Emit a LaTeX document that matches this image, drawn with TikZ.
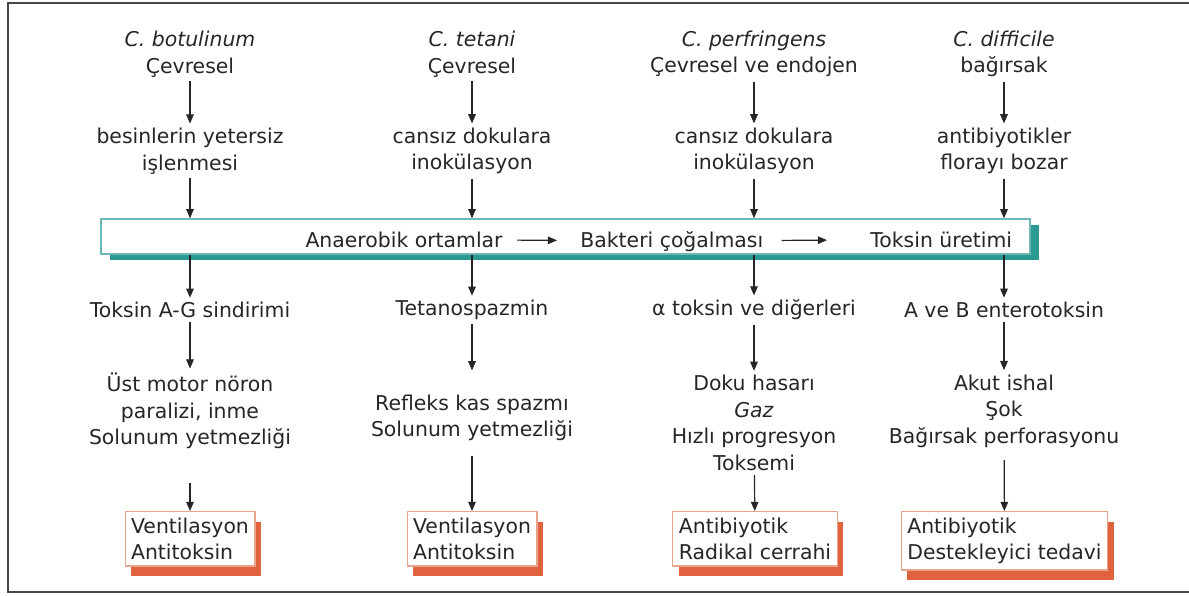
\documentclass[tikz,border=0pt]{standalone}
\usepackage{fontspec}
\setmainfont{DejaVu Sans}
\usetikzlibrary{arrows.meta,shadows}
\definecolor{ink}{HTML}{262626}
\definecolor{barline}{HTML}{6DB8B6}
\definecolor{barshadow}{HTML}{2A9A93}
\definecolor{boxline}{HTML}{E9A58C}
\definecolor{boxshadow}{HTML}{E0623F}

\begin{document}
\begin{tikzpicture}[x=0.5pt,y=-0.5pt]
            \tikzset{
            cl node/.style={align=center,inner sep=2pt,text=ink,font=\fontsize{10.2}{13.3}\selectfont},
            cl arrow/.style={-{Triangle[length=4.6pt,width=3.8pt]},line width=0.6pt,draw=ink},
            cl bar/.style={draw=barline,line width=0.7pt,fill=white,minimum width=464.5pt,minimum height=17.5pt,inner sep=0pt,
                drop shadow={shadow xshift=4.5pt,shadow yshift=-3pt,fill=barshadow,opacity=1}},
            cl box/.style={cl node,align=left,draw=boxline,line width=0.6pt,fill=white,inner xsep=3pt,inner ysep=3pt,anchor=north,
                drop shadow={shadow xshift=3pt,shadow yshift=-5pt,fill=boxshadow,opacity=1}}
            }
            \useasboundingbox (0,0) rectangle (1189,595);
            \begin{scope}
            \clip (0,0) rectangle (1189,595);
            \draw[line width=1pt,draw=ink!85] (8,3) rectangle (1210,592);
            \end{scope}

            % sources
            \node[cl node] (S1) at (190,54) {\textit{C. botulinum}\\Çevresel};
            \node[cl node] (S2) at (472,54) {\textit{C. tetani}\\Çevresel};
            \node[cl node] (S3) at (754,54) {\textit{C. perfringens}\\Çevresel ve endojen};
            \node[cl node] (S4) at (1004,54) {\textit{C. difficile}\\bağırsak};

            \node[cl node] (R1) at (190,151) {besinlerin yetersiz\\işlenmesi};
            \node[cl node] (R2) at (472,151) {cansız dokulara\\inokülasyon};
            \node[cl node] (R3) at (754,151) {cansız dokulara\\inokülasyon};
            \node[cl node] (R4) at (1004,151) {antibiyotikler\\florayı bozar};

            % bar
            \node[cl bar] (bar) at (565.5,236.5) {};
            \node[cl node,anchor=base east] (B1) at (507,247) {Anaerobik ortamlar};
            \node[cl node,anchor=base west] (B2) at (576,247) {Bakteri çoğalması};
            \node[cl node,anchor=base west] (B3) at (866,247) {Toksin üretimi};
            \coordinate (F1) at (R1 |- bar.north);
            \coordinate (F2) at (R2 |- bar.north);
            \coordinate (F3) at (R3 |- bar.north);
            \coordinate (F4) at (R4 |- bar.north);
            \coordinate (G1) at (bar.south -| R1);
            \coordinate (G2) at (bar.south -| R2);
            \coordinate (G3) at (bar.south -| R3);
            \coordinate (G4) at (bar.south -| R4);

            \node[cl node] (T1) at (190,310) {Toksin A-G sindirimi};
            \node[cl node] (T2) at (472,310) {Tetanospazmin};
            \node[cl node] (T3) at (754,310) {α toksin ve diğerleri};
            \node[cl node] (T4) at (1004,310) {A ve B enterotoksin};

            \node[cl node] (E1) at (190,411) {Üst motor nöron\\paralizi, inme\\Solunum yetmezliği};
            \node[cl node] (E2) at (472,418) {Refleks kas spazmı\\Solunum yetmezliği};
            \node[cl node] (E3) at (754,423) {Doku hasarı\\\textit{Gaz}\\Hızlı progresyon\\Toksemi};
            \node[cl node] (E4) at (1004,411) {Akut ishal\\Şok\\Bağırsak perforasyonu};

            % treatment
            \node[cl box] (K1) at (190,511) {Ventilasyon\\Antitoksin};
            \node[cl box] (K2) at (472,511) {Ventilasyon\\Antitoksin};
            \node[cl box] (K3) at (755,511) {Antibiyotik\\Radikal cerrahi};
            \node[cl box] (K4) at (1004.5,511) {Antibiyotik\\Destekleyici tedavi};

            \draw[cl arrow] (S1) -- (R1);
            \draw[cl arrow] (S2) -- (R2);
            \draw[cl arrow] (S3) -- (R3);
            \draw[cl arrow] (S4) -- (R4);
            \draw[cl arrow] (R1) -- (F1);
            \draw[cl arrow] (R2) -- (F2);
            \draw[cl arrow] (R3) -- (F3);
            \draw[cl arrow] (R4) -- (F4);
            \draw[cl arrow,shorten <=5pt,shorten >=9.5pt] (B1) -- (B2);
            \draw[cl arrow,shorten <=7pt,shorten >=19.5pt] (B2) -- (B3);
            \draw[cl arrow] (G1) -- (T1);
            \draw[cl arrow] (G2) -- (T2);
            \draw[cl arrow] (G3) -- (T3);
            \draw[cl arrow] (G4) -- (T4);
            \draw[cl arrow] (T1) -- (E1);
            \draw[cl arrow,shorten >=10pt] (T2) -- (E2);
            \draw[cl arrow] (T3) -- (E3);
            \draw[cl arrow] (T4) -- (E4);
            \draw[cl arrow,shorten <=15pt] (E1) -- (K1);
            \draw[cl arrow,shorten <=5pt] (E2) -- (K2);
            \draw[cl arrow] (E3) -- (K3);
            \draw[cl arrow,shorten <=4pt] (E4) -- (K4);
        \end{tikzpicture}
\end{document}
